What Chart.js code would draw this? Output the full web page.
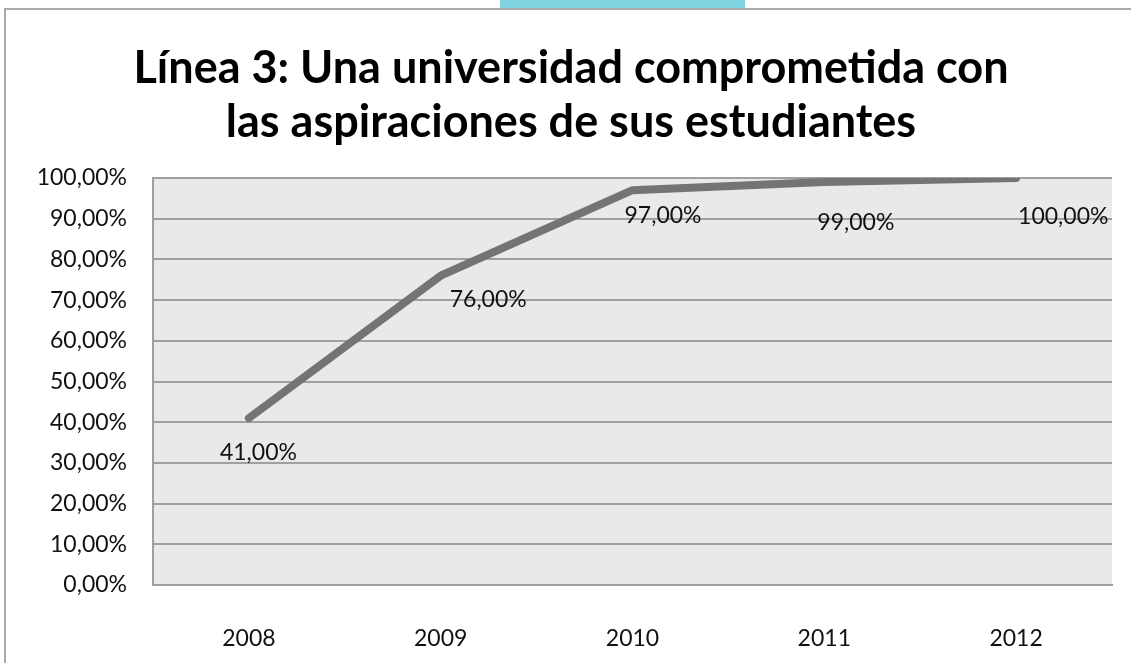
<!DOCTYPE html>
<html>
<head>
<meta charset="utf-8">
<script src="https://cdn.jsdelivr.net/npm/chart.js@4.4.1/dist/chart.umd.min.js"></script>
<style>
  html, body { margin: 0; padding: 0; background: #fff; }
  #wrap { position: relative; width: 1131px; height: 663px; overflow: hidden; }
  #mark { position: absolute; left: 500px; top: 0; width: 245px; height: 8px; background: #80d4e0; }
  #frame { position: absolute; left: 4px; top: 8px; right: -10px; bottom: -10px;
           border-top: 2px solid #aaa; border-left: 2px solid #aaa; }
  canvas { position: absolute; left: 0; top: 0; }
</style>
</head>
<body>
<div id="wrap">
  <div id="mark"></div>
  <div id="frame"></div>
  <canvas id="chart" width="1131" height="663"></canvas>
</div>
<script>
// chart values
const years = ['2008', '2009', '2010', '2011', '2012'];
const values = [41, 76, 97, 99, 100];
const valueLabels = ['41,00%', '76,00%', '97,00%', '99,00%', '100,00%'];
const titleLines = ['Línea 3: Una universidad comprometida con', 'las aspiraciones de sus estudiantes'];

const FONT = 'Lato, "Open Sans", sans-serif';
const BODY_SIZE = 23;

// shaded plot background
const plotBackground = {
    id: 'plotBackground',
    beforeDraw(chart) {
        const { ctx, chartArea: a } = chart;
        ctx.save();
        ctx.fillStyle = '#e9e9e9';
        ctx.fillRect(a.left, a.top, a.right - a.left, a.bottom - a.top);
        ctx.restore();
    }
};

// value labels, nudged like the original hand-placed ones
const valueLabelPlugin = {
    id: 'valueLabels',
    afterDatasetsDraw(chart, args, opts) {
        const { ctx } = chart;
        const meta = chart.getDatasetMeta(0);
        ctx.save();
        ctx.font = BODY_SIZE + 'px ' + FONT;
        ctx.fillStyle = '#111';
        ctx.textAlign = 'left';
        ctx.textBaseline = 'middle';
        meta.data.forEach((pt, i) => {
            const [dx, dy] = opts.offsets[i];
            ctx.fillText(valueLabels[i], pt.x + dx, pt.y + dy);
        });
        ctx.restore();
    }
};

new Chart(document.getElementById('chart').getContext('2d'), {
    type: 'line',
    data: {
        labels: years,
        datasets: [{
            data: values,
            borderColor: '#747474',
            borderWidth: 8,
            borderCapStyle: 'round',
            borderJoinStyle: 'round',
            pointRadius: 0,
            tension: 0
        }]
    },
    options: {
        responsive: false,
        animation: false,
        // left padding keeps the title centred where the original sits
        layout: { padding: { left: 30, right: 19, top: 20, bottom: 0 } },
        scales: {
            x: {
                offset: true,
                grid: { display: false },
                border: { display: true, color: '#a0a0a0', width: 2 },
                ticks: { color: '#111', font: { family: FONT, size: BODY_SIZE }, padding: 32, maxRotation: 0 },
                afterFit: (scale) => { scale.height = 78; }
            },
            y: {
                min: 0, max: 100,
                grid: { color: '#a0a0a0', lineWidth: 2, drawTicks: false },
                border: { display: true, color: '#a0a0a0', width: 2 },
                ticks: {
                    stepSize: 10,
                    color: '#111',
                    font: { family: FONT, size: BODY_SIZE },
                    padding: 26,
                    callback: v => v.toFixed(2).replace('.', ',') + '%'
                },
                afterFit: (scale) => { scale.width = 123; }
            }
        },
        plugins: {
            legend: { display: false },
            tooltip: { enabled: false },
            title: {
                display: true,
                text: titleLines,
                color: '#000',
                font: { family: FONT, size: 45, weight: 'bold', lineHeight: 1.2 },
                padding: { top: 21, bottom: 29 }
            },
            valueLabels: {
                offsets: [[-29, 34], [9, 24], [-8, 25], [-7, 41], [2, 39]]
            }
        }
    },
    plugins: [plotBackground, valueLabelPlugin]
});
</script>
</body>
</html>
